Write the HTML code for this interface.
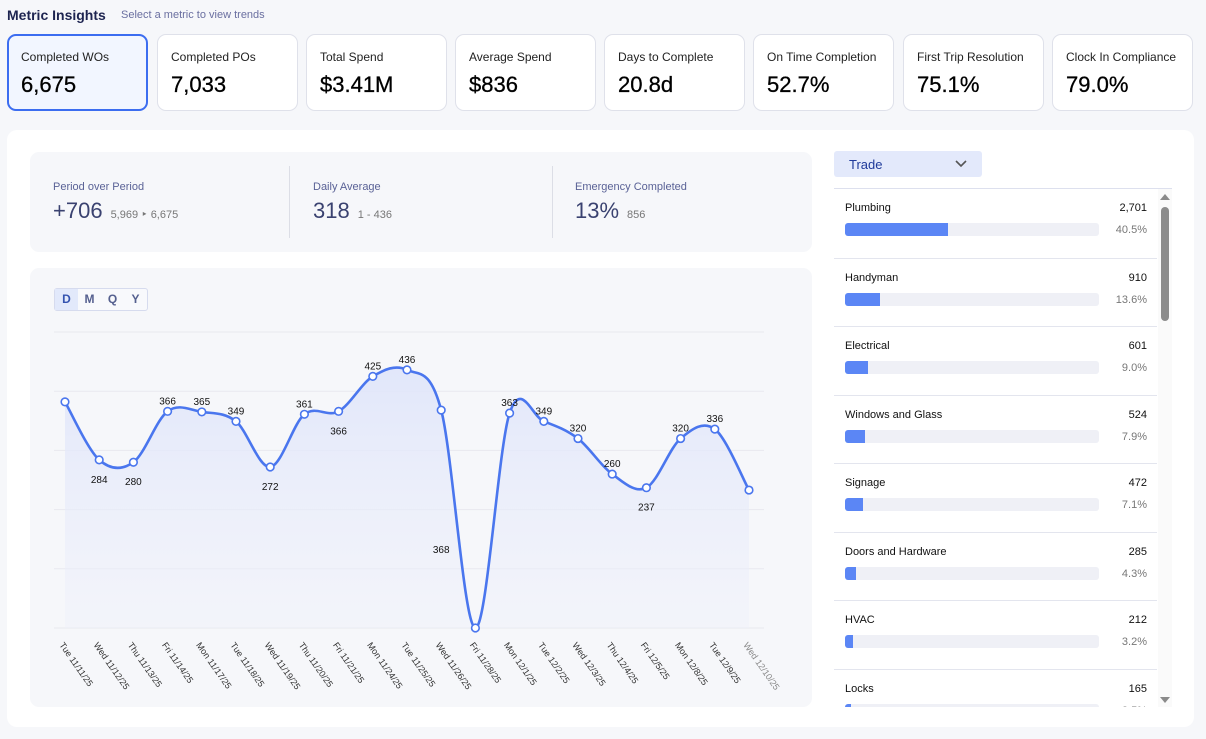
<!DOCTYPE html>
<html><head><meta charset="utf-8">
<style>
*{box-sizing:border-box;margin:0;padding:0}
body{width:1206px;height:739px;background:#f6f7fa;font-family:"Liberation Sans",sans-serif;position:relative;overflow:hidden;color:#111}
.abs{position:absolute}
.card{position:absolute;top:34px;width:141px;height:77px;background:#fff;border:1px solid #dfe1ea;border-radius:9px}
.card .l{position:absolute;left:13px;top:15px;font-size:12px;color:#222}
.card .v{position:absolute;left:13px;top:37px;font-size:22px;color:#000;-webkit-text-stroke:0.3px #000}
.card.sel{background:#f2f6ff;border:2px solid #3c6df0}
.stat .l{font-size:11px;color:#5a6296}
.stat .v{font-size:22px;color:#3a4270}
.stat .s{font-size:11px;color:#777;margin-left:8px}
.row{position:absolute;left:834px;width:323px;height:68px;border-top:1px solid #e3e5ee}
.row .n{position:absolute;left:11px;top:13px;font-size:11px;color:#111}
.row .c{position:absolute;right:10px;top:13px;font-size:11px;color:#111}
.row .track{position:absolute;left:11px;top:34px;width:254px;height:13px;background:#eff0f6;border-radius:3px;overflow:hidden}
.row .fill{height:100%;background:#5b86f5}
.row .p{position:absolute;right:10px;top:35px;font-size:11px;color:#777}
</style></head><body>
<div class="abs" style="left:7px;top:7px;font-size:14px;font-weight:bold;color:#1d2450">Metric Insights</div>
<div class="abs" style="left:121px;top:9px;font-size:11px;color:#6a6fa0">Select a metric to view trends</div>

<div class="card sel" style="left:7px"><div class="l" style="left:12px;top:14px">Completed WOs</div><div class="v" style="left:12px;top:36px">6,675</div></div>
<div class="card" style="left:157px"><div class="l">Completed POs</div><div class="v">7,033</div></div>
<div class="card" style="left:306px"><div class="l">Total Spend</div><div class="v">$3.41M</div></div>
<div class="card" style="left:455px"><div class="l">Average Spend</div><div class="v">$836</div></div>
<div class="card" style="left:604px"><div class="l">Days to Complete</div><div class="v">20.8d</div></div>
<div class="card" style="left:753px"><div class="l">On Time Completion</div><div class="v">52.7%</div></div>
<div class="card" style="left:903px"><div class="l">First Trip Resolution</div><div class="v">75.1%</div></div>
<div class="card" style="left:1052px"><div class="l">Clock In Compliance</div><div class="v">79.0%</div></div>

<div class="abs" style="left:7px;top:130px;width:1187px;height:597px;background:#fff;border-radius:10px"></div>

<div class="abs" style="left:30px;top:152px;width:782px;height:100px;background:#f6f7fa;border-radius:9px">
  <div class="abs stat" style="left:23px;top:29px"><div class="l">Period over Period</div><div style="margin-top:5px"><span class="v">+706</span><span class="s">5,969 ‣ 6,675</span></div></div>
  <div class="abs" style="left:259px;top:14px;width:1px;height:72px;background:#dcdee6"></div>
  <div class="abs stat" style="left:283px;top:29px"><div class="l">Daily Average</div><div style="margin-top:5px"><span class="v">318</span><span class="s">1 - 436</span></div></div>
  <div class="abs" style="left:522px;top:14px;width:1px;height:72px;background:#dcdee6"></div>
  <div class="abs stat" style="left:545px;top:29px"><div class="l">Emergency Completed</div><div style="margin-top:5px"><span class="v">13%</span><span class="s">856</span></div></div>
</div>

<div class="abs" style="left:30px;top:268px;width:782px;height:439px;background:#f6f7fa;border-radius:9px"></div>
<div class="abs" style="left:54px;top:288px;width:94px;height:23px;border:1px solid #d6dbee;border-radius:3px;display:flex;font-size:12px;font-weight:bold;color:#55608f;background:#f8f9fc">
  <div style="width:23px;text-align:center;line-height:21px;background:#e2e9fb;color:#3453b0">D</div>
  <div style="width:23px;text-align:center;line-height:21px">M</div>
  <div style="width:23px;text-align:center;line-height:21px">Q</div>
  <div style="width:23px;text-align:center;line-height:21px">Y</div>
</div>

<svg id="chart" class="abs" style="left:0;top:0" width="820" height="739"></svg>

<div class="abs" style="left:834px;top:151px;width:148px;height:26px;background:#e3e9fb;border-radius:3px">
  <span style="position:absolute;left:15px;top:6px;font-size:13px;color:#1f3a9a">Trade</span>
  <svg style="position:absolute;left:121px;top:8px" width="12" height="9"><path d="M1 2 L6 7 L11 2" stroke="#555" stroke-width="1.6" fill="none"/></svg>
</div>
<div class="abs" style="left:834px;top:188px;width:338px;height:1px;background:#dde0ee"></div>
<div id="list" class="abs" style="left:0;top:0;width:1206px;height:707px;overflow:hidden"></div>
<div class="abs" style="left:1158px;top:189px;width:14px;height:518px;background:#fafafa">
  <svg style="position:absolute;left:2px;top:4px" width="10" height="8"><path d="M0 7 L5 1 L10 7Z" fill="#8a8a8a"/></svg>
  <div style="position:absolute;left:3px;top:18px;width:8px;height:114px;background:#8c8c8c;border-radius:4px"></div>
  <svg style="position:absolute;left:2px;top:507px" width="10" height="8"><path d="M0 1 L5 7 L10 1Z" fill="#8a8a8a"/></svg>
</div>

<script>
const categories=["Tue 11/11/25","Wed 11/12/25","Thu 11/13/25","Fri 11/14/25","Mon 11/17/25","Tue 11/18/25","Wed 11/19/25","Thu 11/20/25","Fri 11/21/25","Mon 11/24/25","Tue 11/25/25","Wed 11/26/25","Fri 11/28/25","Mon 12/1/25","Tue 12/2/25","Wed 12/3/25","Thu 12/4/25","Fri 12/5/25","Mon 12/8/25","Tue 12/9/25","Wed 12/10/25"];
const values=[382,284,280,366,365,349,272,361,366,425,436,368,0,363,349,320,260,237,320,336,233];
const labelBelow=[false,true,true,false,false,false,true,false,true,false,false,false,false,false,false,false,false,true,false,false,false];
const yTicks=[0,100,200,300,400,500];
const trades=["Plumbing","Handyman","Electrical","Windows and Glass","Signage","Doors and Hardware","HVAC","Locks"];
const tradeCounts=[2701,910,601,524,472,285,212,165];
const tradeTotal=6675;

const NS="http://www.w3.org/2000/svg";
const svg=document.getElementById('chart');
const x0=65,dx=34.2,yBase=628,pxPer=0.592;
const X=i=>x0+i*dx, Y=v=>yBase-v*pxPer;
function mk(t,a){const e=document.createElementNS(NS,t);for(const k in a)e.setAttribute(k,a[k]);svg.appendChild(e);return e;}
yTicks.forEach(t=>{const g=mk('line',{x1:54,x2:764,y1:Y(t),y2:Y(t),stroke:'#e8e9ef','stroke-width':1});

});
const pts=values.map((v,i)=>[X(i),Y(v)]);
let d=`M${pts[0][0]},${pts[0][1]}`;
for(let i=0;i<pts.length-1;i++){const p0=pts[i-1]||pts[i],p1=pts[i],p2=pts[i+1],p3=pts[i+2]||p2,t=1/3;
const c1=[p1[0]+(p2[0]-p0[0])*t/2,p1[1]+(p2[1]-p0[1])*t/2],c2=[p2[0]-(p3[0]-p1[0])*t/2,p2[1]-(p3[1]-p1[1])*t/2];
d+=` C${c1[0]},${c1[1]} ${c2[0]},${c2[1]} ${p2[0]},${p2[1]}`;}
const defs=mk('defs',{});defs.innerHTML='<linearGradient id="g" x1="0" y1="0" x2="0" y2="1"><stop offset="0" stop-color="#dfe5fa" stop-opacity="0.9"/><stop offset="1" stop-color="#eef0fa" stop-opacity="0.4"/></linearGradient>';
const area=mk('path',{d:d+` L${X(values.length-1)},${yBase} L${X(0)},${yBase}Z`,fill:'url(#g)'});


const line=mk('path',{d:d,fill:'none',stroke:'#4a76ee','stroke-width':2.6});


values.forEach((v,i)=>{
 const c=mk('circle',{cx:X(i),cy:Y(v),r:3.8,fill:'#fff',stroke:'#4a76ee','stroke-width':1.6});
 
 
 if(i>0&&i<values.length-1&&v>0){
  const below=labelBelow[i];
  const t=mk('text',{x:X(i),y:i===11?Y(v)+143:(below?Y(v)+23:Y(v)-7),'text-anchor':'middle','font-size':10,fill:'#111'});
  t.textContent=v;
  
  
 }
 const lx=X(i)-6,ly=645;
 const tl=mk('text',{x:lx,y:ly,'font-size':9,fill:i===categories.length-1?'#888':'#333',transform:`rotate(55 ${lx} ${ly})`});
 tl.textContent=categories[i];
 
 
});
const list=document.getElementById('list');
trades.forEach((n,i)=>{
 const pct=tradeCounts[i]/tradeTotal*100;
 const r=document.createElement('div');r.className='row';r.style.top=(189+i*68.5)+'px';
 if(i===0)r.style.borderTop='none';
 
 
 r.innerHTML=`<div class="n">${n}</div><div class="c">${tradeCounts[i].toLocaleString('en-US')}</div><div class="track"><div class="fill" style="width:${pct}%"></div></div><div class="p">${pct.toFixed(1)}%</div>`;
 list.appendChild(r);
});
</script>
</body></html>
